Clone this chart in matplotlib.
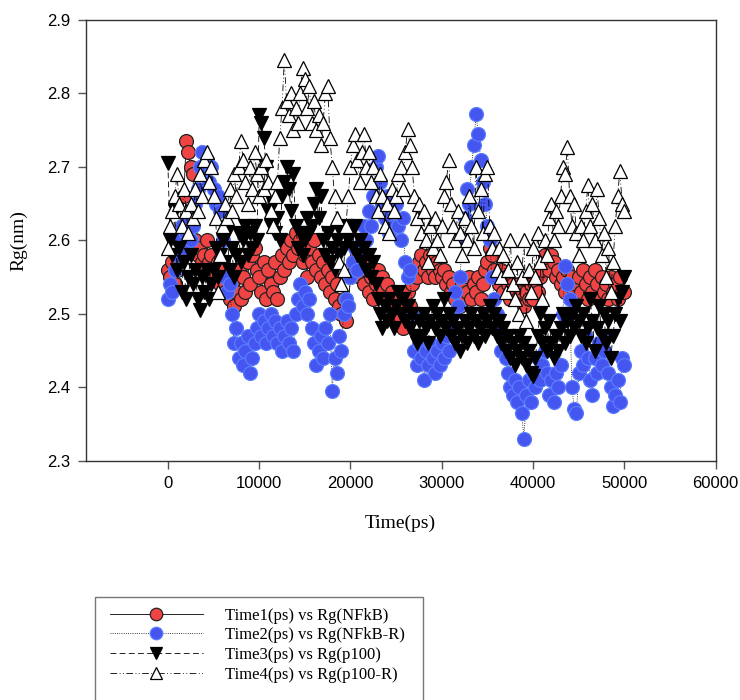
import numpy as np
import matplotlib
matplotlib.use("Agg")
import matplotlib.pyplot as plt
from matplotlib.patches import Rectangle

# sampling times (ps), one value every 250 ps
time_ps = np.arange(0, 50001, 250)

# Rg (nm), 20 values per 5000 ps row
rg_nfkb = [
    2.56, 2.55, 2.57, 2.54, 2.56, 2.58, 2.62, 2.66, 2.735, 2.72, 2.70, 2.69, 2.60, 2.58, 2.59, 2.57, 2.58, 2.60, 2.57, 2.58,
    2.56, 2.55, 2.57, 2.54, 2.56, 2.53, 2.55, 2.52, 2.54, 2.51, 2.53, 2.56, 2.52, 2.55, 2.53, 2.57, 2.54, 2.58, 2.59, 2.56,
    2.55, 2.53, 2.57, 2.52, 2.56, 2.54, 2.53, 2.57, 2.52, 2.55, 2.58, 2.56, 2.59, 2.57, 2.60, 2.58, 2.61, 2.59, 2.60, 2.57,
    2.58, 2.55, 2.59, 2.57, 2.60, 2.56, 2.58, 2.55, 2.57, 2.54, 2.56, 2.53, 2.55, 2.52, 2.54, 2.51, 2.50, 2.52, 2.49, 2.51,
    2.55, 2.57, 2.56, 2.58, 2.55, 2.57, 2.54, 2.56, 2.53, 2.55, 2.52, 2.54, 2.56, 2.53, 2.55, 2.52, 2.54, 2.51, 2.53, 2.50,
    2.52, 2.49, 2.51, 2.48, 2.50, 2.53, 2.51, 2.54, 2.56, 2.55, 2.57, 2.58, 2.56, 2.57, 2.55, 2.58, 2.56, 2.55, 2.57, 2.56,
    2.55, 2.56, 2.54, 2.55, 2.53, 2.54, 2.52, 2.53, 2.51, 2.54, 2.52, 2.53, 2.55, 2.52, 2.54, 2.53, 2.55, 2.52, 2.54, 2.56,
    2.57, 2.59, 2.58, 2.56, 2.55, 2.54, 2.56, 2.53, 2.55, 2.54, 2.52, 2.54, 2.53, 2.52, 2.54, 2.53, 2.51, 2.53, 2.52, 2.54,
    2.52, 2.54, 2.53, 2.55, 2.56, 2.58, 2.57, 2.56, 2.58, 2.57, 2.55, 2.56, 2.54, 2.55, 2.53, 2.56, 2.54, 2.55, 2.53, 2.54,
    2.55, 2.53, 2.56, 2.54, 2.52, 2.55, 2.53, 2.56, 2.54, 2.52, 2.55, 2.53, 2.54, 2.52, 2.55, 2.53, 2.54, 2.52, 2.55, 2.53,
    2.53,
]

rg_nfkb_r = [
    2.52, 2.54, 2.53, 2.56, 2.58, 2.60, 2.62, 2.59, 2.61, 2.63, 2.60, 2.62, 2.65, 2.67, 2.70, 2.72, 2.69, 2.71, 2.68, 2.70,
    2.67, 2.65, 2.66, 2.64, 2.60, 2.55, 2.53, 2.54, 2.50, 2.46, 2.48, 2.44, 2.46, 2.43, 2.45, 2.47, 2.42, 2.44, 2.46, 2.48,
    2.50, 2.47, 2.49, 2.46, 2.48, 2.50, 2.47, 2.49, 2.46, 2.48, 2.45, 2.47, 2.49, 2.46, 2.48, 2.45, 2.50, 2.52, 2.54, 2.51,
    2.53, 2.50, 2.52, 2.48, 2.46, 2.43, 2.45, 2.47, 2.44, 2.48, 2.46, 2.50, 2.395, 2.44, 2.42, 2.47, 2.45, 2.50, 2.52, 2.51,
    2.55, 2.57, 2.59, 2.56, 2.58, 2.60, 2.62, 2.60, 2.64, 2.62, 2.66, 2.70, 2.715, 2.68, 2.65, 2.63, 2.66, 2.61, 2.64, 2.62,
    2.65, 2.62, 2.60, 2.63, 2.57, 2.55, 2.56, 2.50, 2.45, 2.43, 2.46, 2.44, 2.41, 2.45, 2.43, 2.46, 2.44, 2.42, 2.45, 2.43,
    2.46, 2.44, 2.47, 2.45, 2.48, 2.50, 2.53, 2.51, 2.55, 2.60, 2.63, 2.67, 2.65, 2.70, 2.73, 2.772, 2.745, 2.71, 2.68, 2.65,
    2.62, 2.60, 2.55, 2.52, 2.50, 2.48, 2.45, 2.47, 2.44, 2.42, 2.40, 2.39, 2.41, 2.38, 2.40, 2.365, 2.33, 2.39, 2.41, 2.38,
    2.42, 2.40, 2.44, 2.41, 2.43, 2.45, 2.42, 2.39, 2.41, 2.38, 2.42, 2.40, 2.43, 2.50, 2.565, 2.54, 2.52, 2.40, 2.37, 2.365,
    2.42, 2.45, 2.43, 2.47, 2.44, 2.41, 2.39, 2.44, 2.42, 2.46, 2.43, 2.45, 2.47, 2.42, 2.40, 2.375, 2.39, 2.41, 2.38, 2.44,
    2.43,
]

rg_p100 = [
    2.705, 2.60, 2.58, 2.64, 2.56, 2.59, 2.53, 2.57, 2.52, 2.55, 2.58, 2.54, 2.56, 2.52, 2.505, 2.55, 2.53, 2.56, 2.52, 2.54,
    2.56, 2.59, 2.55, 2.58, 2.60, 2.57, 2.61, 2.56, 2.59, 2.55, 2.58, 2.61, 2.57, 2.60, 2.62, 2.58, 2.61, 2.59, 2.62, 2.60,
    2.77, 2.76, 2.74, 2.70, 2.64, 2.62, 2.65, 2.61, 2.63, 2.60, 2.66, 2.68, 2.70, 2.67, 2.64, 2.69, 2.62, 2.59, 2.61, 2.58,
    2.60, 2.63, 2.61, 2.62, 2.65, 2.67, 2.63, 2.66, 2.60, 2.58, 2.61, 2.57, 2.59, 2.56, 2.60, 2.58, 2.61, 2.59, 2.62, 2.60,
    2.61, 2.59, 2.62, 2.58, 2.60, 2.57, 2.59, 2.56, 2.58, 2.55, 2.57, 2.54, 2.52, 2.50, 2.48, 2.51, 2.49, 2.52, 2.50, 2.48,
    2.51, 2.53, 2.50, 2.52, 2.49, 2.51, 2.48, 2.50, 2.47, 2.46, 2.49, 2.47, 2.50, 2.48, 2.46, 2.49, 2.51, 2.48, 2.50, 2.47,
    2.49, 2.52, 2.48, 2.50, 2.47, 2.49, 2.46, 2.48, 2.45, 2.47, 2.49, 2.46, 2.48, 2.50, 2.47, 2.49, 2.46, 2.48, 2.50, 2.47,
    2.49, 2.51, 2.48, 2.50, 2.47, 2.49, 2.46, 2.48, 2.45, 2.47, 2.44, 2.46, 2.43, 2.45, 2.47, 2.44, 2.46, 2.43, 2.45, 2.42,
    2.415, 2.44, 2.47, 2.50, 2.46, 2.48, 2.45, 2.49, 2.46, 2.44, 2.47, 2.45, 2.48, 2.50, 2.46, 2.49, 2.47, 2.50, 2.48, 2.51,
    2.49, 2.47, 2.50, 2.46, 2.48, 2.52, 2.49, 2.45, 2.48, 2.51, 2.47, 2.50, 2.46, 2.49, 2.44, 2.47, 2.50, 2.52, 2.49, 2.53,
    2.55,
]

rg_p100_r = [
    2.59, 2.62, 2.64, 2.66, 2.69, 2.65, 2.62, 2.67, 2.64, 2.61, 2.65, 2.63, 2.67, 2.64, 2.69, 2.66, 2.71, 2.72, 2.68, 2.70,
    2.66, 2.63, 2.53, 2.58, 2.62, 2.65, 2.63, 2.67, 2.64, 2.69, 2.66, 2.70, 2.735, 2.71, 2.68, 2.65, 2.70, 2.67, 2.72, 2.69,
    2.66, 2.70, 2.67, 2.71, 2.68, 2.64, 2.62, 2.66, 2.68, 2.74, 2.78, 2.845, 2.79, 2.77, 2.80, 2.75, 2.78, 2.76, 2.80, 2.835,
    2.82, 2.78, 2.81, 2.76, 2.79, 2.75, 2.77, 2.73, 2.76, 2.80, 2.81, 2.74, 2.70, 2.66, 2.63, 2.57, 2.54, 2.56, 2.62, 2.66,
    2.70, 2.73, 2.745, 2.71, 2.68, 2.72, 2.745, 2.70, 2.72, 2.68, 2.70, 2.66, 2.64, 2.69, 2.66, 2.62, 2.65, 2.61, 2.67, 2.64,
    2.66, 2.69, 2.70, 2.67, 2.72, 2.752, 2.73, 2.70, 2.66, 2.63, 2.65, 2.61, 2.64, 2.60, 2.57, 2.62, 2.59, 2.63, 2.60, 2.58,
    2.62, 2.66, 2.68, 2.71, 2.65, 2.62, 2.60, 2.64, 2.61, 2.58, 2.63, 2.60, 2.66, 2.62, 2.59, 2.70, 2.64, 2.67, 2.61, 2.69,
    2.70, 2.62, 2.59, 2.61, 2.56, 2.59, 2.55, 2.58, 2.53, 2.56, 2.60, 2.54, 2.52, 2.57, 2.50, 2.55, 2.60, 2.49, 2.56, 2.53,
    2.59, 2.55, 2.61, 2.57, 2.52, 2.60, 2.58, 2.63, 2.65, 2.60, 2.64, 2.62, 2.66, 2.70, 2.69, 2.727, 2.66, 2.62, 2.65, 2.61,
    2.58, 2.62, 2.60, 2.64, 2.675, 2.62, 2.65, 2.60, 2.67, 2.63, 2.58, 2.61, 2.55, 2.59, 2.53, 2.57, 2.62, 2.66, 2.695, 2.65,
    2.64,
]

labels = ["Time1(ps) vs Rg(NFkB)", "Time2(ps) vs Rg(NFkB-R)",
          "Time3(ps) vs Rg(p100)", "Time4(ps) vs Rg(p100-R)"]

fig = plt.figure(figsize=(7.4, 7.0), dpi=100)
ax = fig.add_axes([0.1158, 0.3419, 0.8514, 0.6295])

serif = "Liberation Serif"
sans = "Liberation Sans"

# one style per series: linestyle, marker, face, edge
styles = [
    ("-", "o", "#f04444", "#222222"),
    (":", "o", "#4455f0", "#5a7cff"),
    ((0, (7, 4)), "v", "black", "black"),
    ((0, (8, 3, 1, 3, 1, 3)), "^", "white", "black"),
]
series = [rg_nfkb, rg_nfkb_r, rg_p100, rg_p100_r]

handles = []
for vals, (ls, mk, fc, ec), lab in zip(series, styles, labels):
    h, = ax.plot(time_ps, vals, linestyle=ls, color="black", lw=0.6,
                 marker=mk, markersize=10, markerfacecolor=fc,
                 markeredgecolor=ec, markeredgewidth=0.9, label=lab)
    handles.append(h)

ax.set_xlim(-9000, 60000)
ax.set_ylim(2.3, 2.9)
ax.set_xticks(np.arange(0, 60001, 10000))
ax.set_yticks(np.arange(2.3, 2.91, 0.1))
ax.set_yticklabels([f"{v:.1f}" for v in np.arange(2.3, 2.91, 0.1)])

for s in ax.spines.values():
    s.set_color("#333333")
    s.set_linewidth(1.0)
ax.tick_params(direction="out", length=6, width=1, color="#555555",
               labelsize=12, pad=5)
for t in ax.get_xticklabels() + ax.get_yticklabels():
    t.set_fontfamily(sans)

ax.set_xlabel("Time(ps)", fontsize=14, fontfamily=serif, labelpad=17)
ax.set_ylabel("Rg(nm)", fontsize=14, fontfamily=serif, labelpad=14)

# legend box runs off the bottom of the figure, as in the original
fig.add_artist(Rectangle((95 / 740, -0.05), (423 - 95) / 740, (700 - 597) / 700 + 0.05,
                         transform=fig.transFigure, fill=False,
                         edgecolor="#777777", lw=1.0))
leg = fig.legend(handles=handles, loc="upper left",
                 bbox_to_anchor=(103 / 740, 1 - 601 / 700),
                 frameon=False, handlelength=5.6, handletextpad=1.3,
                 labelspacing=0.22, borderaxespad=0, markerscale=0.9,
                 prop={"family": serif, "size": 12})

fig.savefig("out.png", dpi=100)
